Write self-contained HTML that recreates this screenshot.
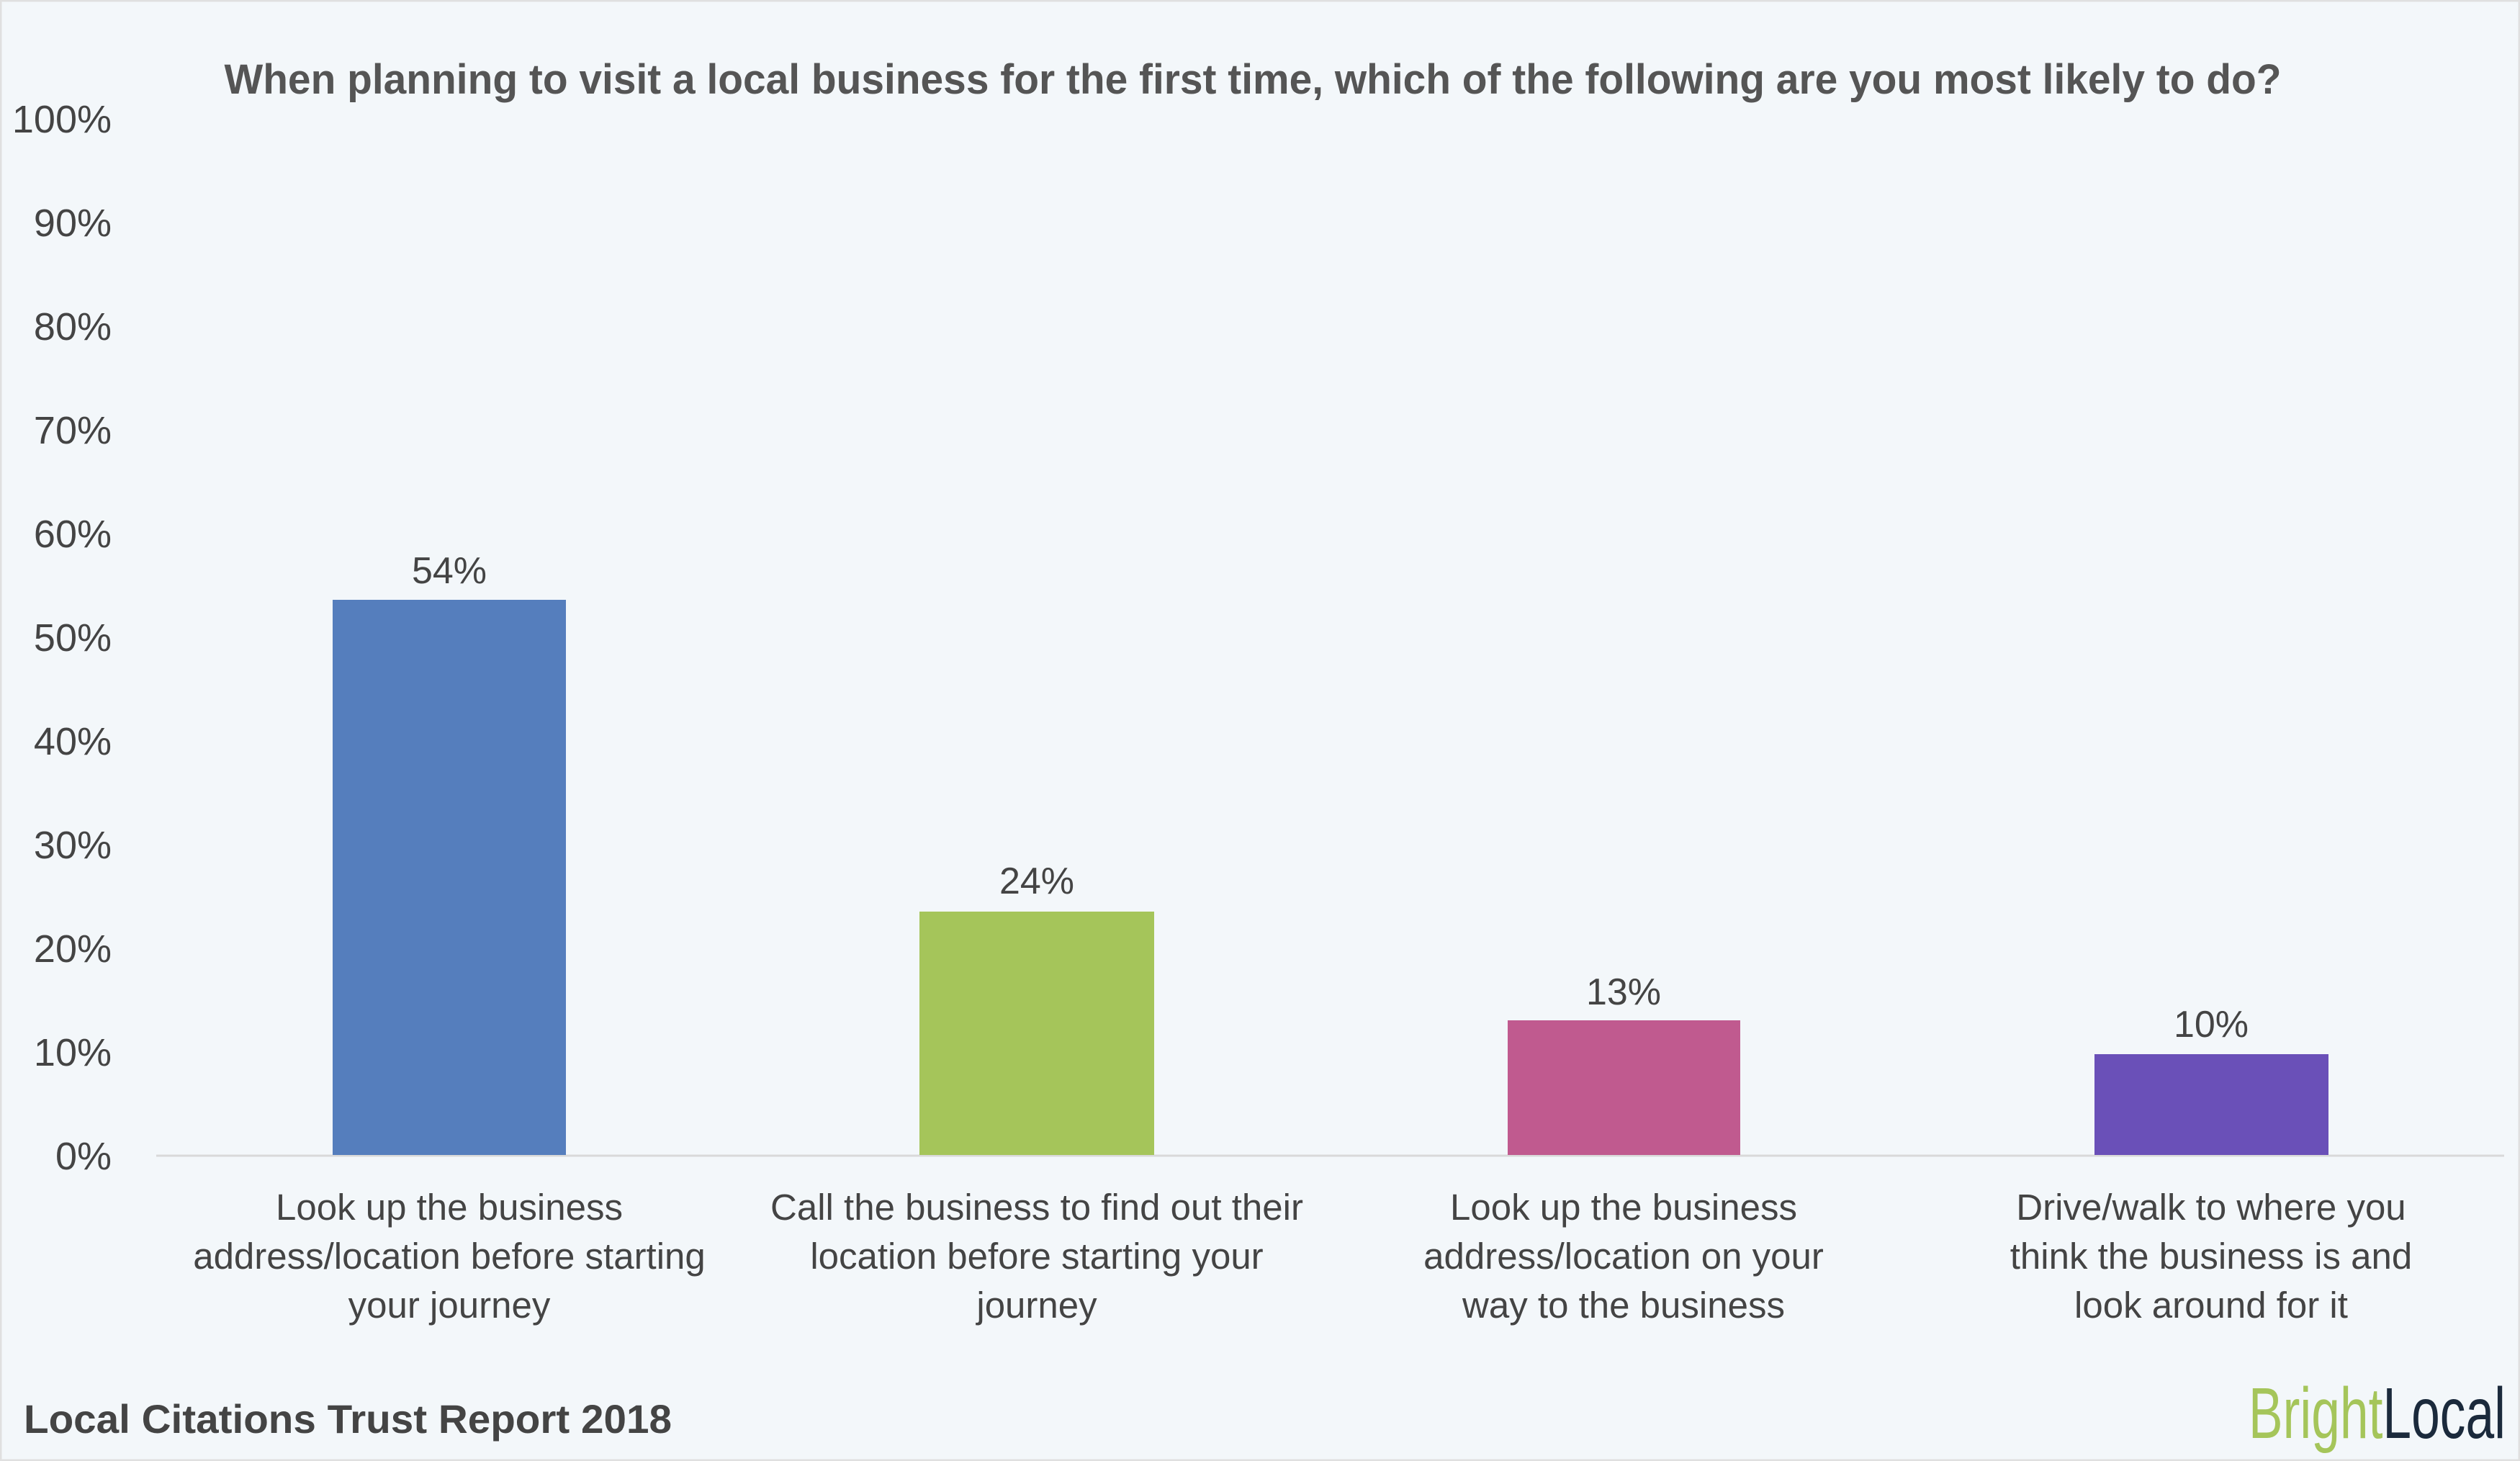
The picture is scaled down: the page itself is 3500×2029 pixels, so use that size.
<!DOCTYPE html>
<html><head><meta charset="utf-8"><style>
html,body{margin:0;padding:0;background:#f3f7fa;}
svg{display:block;}
text{font-family:"Liberation Sans",sans-serif;fill:#444;}
</style></head><body>
<svg width="3500" height="2029" viewBox="0 0 3500 2029" xmlns="http://www.w3.org/2000/svg">
<rect x="0" y="0" width="3500" height="2029" fill="#f3f7fa"/>
<rect x="1" y="1" width="3498" height="2027" fill="none" stroke="#e0e0e0" stroke-width="3"/>
<text x="1740" y="130" text-anchor="middle" font-size="58" font-weight="bold" textLength="2857" lengthAdjust="spacingAndGlyphs" style="fill:#555">When planning to visit a local business for the first time, which of the following are you most likely to do?</text>
<g font-size="54" text-anchor="end" style="fill:#555">
<text x="155" y="184">100%</text>
<text x="155" y="328">90%</text>
<text x="155" y="472">80%</text>
<text x="155" y="616">70%</text>
<text x="155" y="760">60%</text>
<text x="155" y="904">50%</text>
<text x="155" y="1048">40%</text>
<text x="155" y="1192">30%</text>
<text x="155" y="1336">20%</text>
<text x="155" y="1480">10%</text>
<text x="155" y="1624">0%</text>
</g>
<line x1="217" y1="1605" x2="3478" y2="1605" stroke="#d9d9d9" stroke-width="3"/>
<rect x="462" y="833" width="324" height="771" fill="#557ebd"/>
<rect x="1277" y="1266" width="326" height="338" fill="#a5c55a"/>
<rect x="2094" y="1417" width="323" height="187" fill="#c05a8f"/>
<rect x="2909" y="1464" width="325" height="140" fill="#6a50b8"/>
<g font-size="52" text-anchor="middle" style="fill:#333">
<text x="624" y="810">54%</text>
<text x="1440" y="1241">24%</text>
<text x="2255" y="1395">13%</text>
<text x="3071" y="1440">10%</text>
</g>
<g font-size="51" text-anchor="middle" style="fill:#444">
<text x="624" y="1694">Look up the business</text>
<text x="624" y="1762">address/location before starting</text>
<text x="624" y="1830">your journey</text>
<text x="1440" y="1694">Call the business to find out their</text>
<text x="1440" y="1762">location before starting your</text>
<text x="1440" y="1830">journey</text>
<text x="2255" y="1694">Look up the business</text>
<text x="2255" y="1762">address/location on your</text>
<text x="2255" y="1830">way to the business</text>
<text x="3071" y="1694">Drive/walk to where you</text>
<text x="3071" y="1762">think the business is and</text>
<text x="3071" y="1830">look around for it</text>
</g>
<text x="33" y="1990" font-size="56" font-weight="bold" textLength="900" lengthAdjust="spacingAndGlyphs" style="fill:#444">Local Citations Trust Report 2018</text>
<text x="3123" y="1997" font-size="100" textLength="357" lengthAdjust="spacingAndGlyphs"><tspan style="fill:#a5c55a">Bright</tspan><tspan style="fill:#1b2a3c">Local</tspan></text>
</svg>
</body></html>
